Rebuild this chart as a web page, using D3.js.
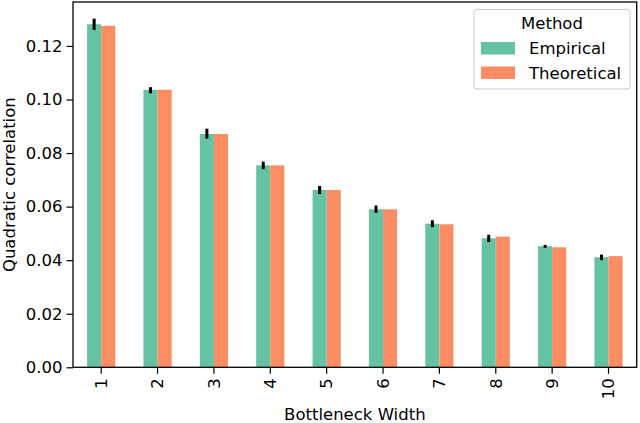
<!DOCTYPE html>
<html>
<head>
<meta charset="utf-8">
<script src="https://cdn.jsdelivr.net/npm/d3@7"></script>
<style>
  body { margin: 0; background: #fff; }
  svg { display: block; font-family: "DejaVu Sans", sans-serif; }
</style>
</head>
<body>
<svg id="chart" width="640" height="423"></svg>
<script>
const categories = ["1", "2", "3", "4", "5", "6", "7", "8", "9", "10"];
const seriesNames = ["Empirical", "Theoretical"];
const empirical   = [0.1281, 0.1036, 0.0871, 0.0754, 0.0662, 0.0590, 0.0536, 0.0482, 0.0452, 0.0411];
const theoretical = [0.1275, 0.1036, 0.0871, 0.0754, 0.0662, 0.0590, 0.0534, 0.0488, 0.0448, 0.0415];
const errLow      = [0.1260, 0.1023, 0.0854, 0.0740, 0.0647, 0.0577, 0.0523, 0.0468, 0.0446, 0.0400];
const errHigh     = [0.1302, 0.1046, 0.0891, 0.0768, 0.0677, 0.0604, 0.0549, 0.0495, 0.0457, 0.0421];
const yTicks = [0, 0.02, 0.04, 0.06, 0.08, 0.10, 0.12];
const colors = ["#66c2a5", "#fc8d62"];

const svg = d3.select("#chart");
const L = 73, T = 2, R = 636.7, B = 367.3;
const fs = 16.5;

const x = d3.scaleBand().domain(categories).range([L, R]).padding(0);
const step = x.bandwidth();
const xs = d3.scaleBand().domain(seriesNames).range([0.25 * step, 0.75 * step]).padding(0);
const y = d3.scaleLinear().domain([0, 0.1364]).range([B, T]);
const color = d3.scaleOrdinal().domain(seriesNames).range(colors);

const rows = categories.map((c, i) => ({
  cat: c, vals: [empirical[i], theoretical[i]], lo: errLow[i], hi: errHigh[i]
}));

// bars
const g = svg.append("g");
rows.forEach(r => {
  seriesNames.forEach((s, j) => {
    g.append("rect")
      .attr("x", x(r.cat) + xs(s))
      .attr("width", xs.bandwidth())
      .attr("y", y(r.vals[j]))
      .attr("height", y(0) - y(r.vals[j]))
      .attr("fill", color(s));
  });
});

// error bars
g.selectAll(".err").data(rows).join("line")
  .attr("x1", d => x(d.cat) + xs("Empirical") + xs.bandwidth() / 2)
  .attr("x2", d => x(d.cat) + xs("Empirical") + xs.bandwidth() / 2)
  .attr("y1", d => y(d.lo))
  .attr("y2", d => y(d.hi))
  .attr("stroke", "#000")
  .attr("stroke-width", 3);

// y axis
const yAxis = svg.append("g").attr("transform", `translate(${L},0)`)
  .call(d3.axisLeft(y).tickValues(yTicks).tickFormat(d3.format(".2f")).tickSize(6.5).tickPadding(4));
yAxis.select(".domain").remove();
yAxis.selectAll("text").attr("font-size", fs).attr("fill", "#000").attr("font-family", "DejaVu Sans");
yAxis.selectAll("line").attr("stroke", "#000").attr("stroke-width", 1.2);

// x axis
const xAxis = svg.append("g").attr("transform", `translate(0,${B})`)
  .call(d3.axisBottom(x).tickSize(6.5).tickPadding(4));
xAxis.select(".domain").remove();
xAxis.selectAll("line").attr("stroke", "#000").attr("stroke-width", 1.2);
xAxis.selectAll("text")
  .attr("font-size", fs).attr("fill", "#000").attr("font-family", "DejaVu Sans")
  .attr("transform", "translate(0,11) rotate(-90)")
  .attr("text-anchor", "end")
  .attr("x", 0).attr("y", 0).attr("dy", "0.35em");

// frame
svg.append("rect").attr("x", L).attr("y", T).attr("width", R - L).attr("height", B - T)
  .attr("fill", "none").attr("stroke", "#000").attr("stroke-width", 1.3);

// axis labels
svg.append("text").attr("x", (L + R) / 2).attr("y", 420)
  .attr("text-anchor", "middle").attr("font-size", fs).attr("fill", "#000")
  .text("Bottleneck Width");
svg.append("text").attr("transform", `translate(15,${(T + B) / 2}) rotate(-90)`)
  .attr("text-anchor", "middle").attr("font-size", fs).attr("fill", "#000")
  .text("Quadratic correlation");

// legend
const lg = svg.append("g");
lg.append("rect").attr("x", 474).attr("y", 9.5).attr("width", 156).attr("height", 79.5)
  .attr("rx", 3).attr("fill", "#fff").attr("fill-opacity", 0.8)
  .attr("stroke", "#cccccc").attr("stroke-width", 1);
lg.append("text").attr("x", 552).attr("y", 29).attr("text-anchor", "middle")
  .attr("font-size", fs).attr("fill", "#000").text("Method");
seriesNames.forEach((s, i) => {
  const cy = 48 + i * 24.5;
  lg.append("rect").attr("x", 481).attr("y", cy - 6).attr("width", 34).attr("height", 12.5)
    .attr("fill", color(s));
  lg.append("text").attr("x", 529).attr("y", cy + 6).attr("font-size", fs)
    .attr("fill", "#000").text(s);
});
</script>
</body>
</html>
